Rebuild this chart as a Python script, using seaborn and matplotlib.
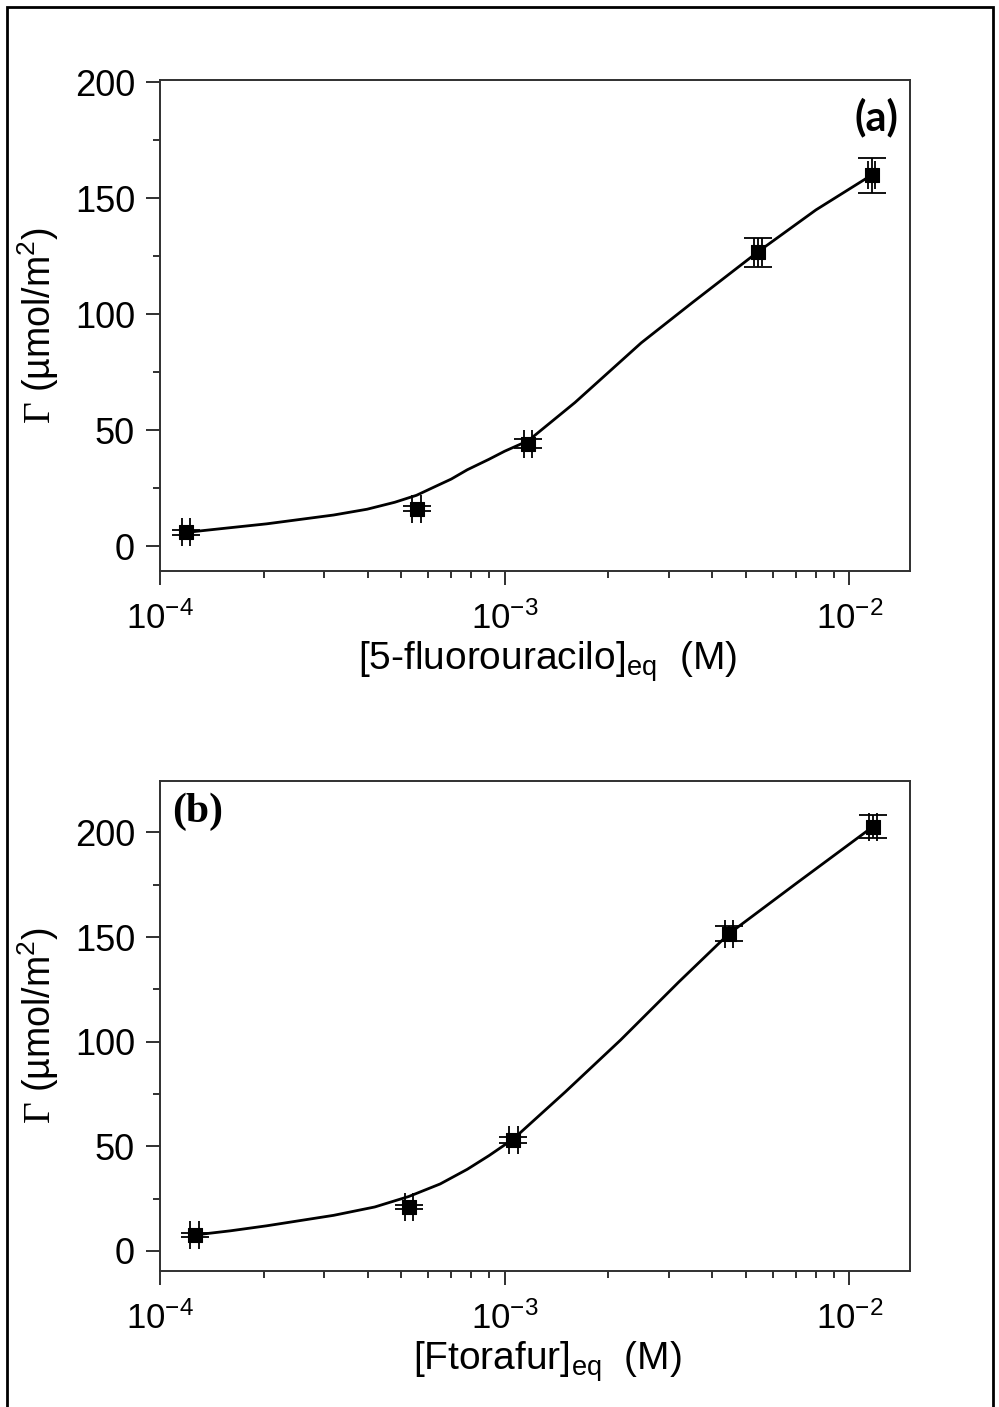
import numpy as np
import pandas as pd
import seaborn as sns
import matplotlib
matplotlib.use("Agg")
import matplotlib.pyplot as plt
from matplotlib.patches import Rectangle
from matplotlib.ticker import LogLocator, MultipleLocator, LogFormatterMathtext

# ---------------- data ----------------
# panel (a): 5-fluorouracilo
xa = [1.19e-4, 5.55e-4, 1.17e-3, 5.44e-3, 1.16e-2]
ya = [6.1, 16.3, 44.3, 126.7, 160.0]
xerr_a = [3e-6, 1.5e-5, 3e-5, 1.4e-4, 3e-4]
yerr_a = [1.0, 1.0, 2.0, 6.4, 7.5]
fit_xa = [1.19e-4, 1.5e-4, 2.04e-4, 3.19e-4, 3.99e-4, 4.8e-4, 5.55e-4, 6.23e-4, 7.0e-4,
          7.79e-4, 9.0e-4, 1.0e-3, 1.17e-3, 1.6e-3, 2.49e-3, 3.5e-3, 5.44e-3, 8e-3, 1.16e-2]
fit_ya = [6.0, 7.6, 9.7, 13.5, 16.0, 19.0, 22.0, 25.5, 29.0,
          33.0, 37.5, 41.0, 45.5, 62.0, 87.7, 105.0, 127.0, 145.0, 160.0]

# panel (b): Ftorafur
xb = [1.26e-4, 5.27e-4, 1.06e-3, 4.47e-3, 1.17e-2]
yb = [7.6, 20.9, 53.0, 151.5, 202.7]
xerr_b = [3.5e-6, 1.4e-5, 3e-5, 1.2e-4, 3e-4]
yerr_b = [1.0, 1.0, 1.5, 3.6, 5.4]
fit_xb = [1.26e-4, 1.6e-4, 2.04e-4, 3.19e-4, 4.2e-4, 5.27e-4, 6.5e-4, 7.79e-4, 9.0e-4,
          1.06e-3, 1.5e-3, 2.17e-3, 3.2e-3, 4.47e-3, 7e-3, 1.17e-2]
fit_yb = [7.6, 9.6, 12.0, 17.0, 21.0, 26.0, 32.0, 39.0, 45.5,
          53.5, 76.0, 100.8, 128.5, 151.5, 175.5, 202.7]

yticks = [0, 50, 100, 150, 200]

# ---------------- style ----------------
sns.set_style("ticks")
plt.rcParams['font.family'] = ['Liberation Sans', 'DejaVu Sans']
plt.rcParams['mathtext.fontset'] = 'custom'
plt.rcParams['mathtext.rm'] = 'Liberation Serif'
plt.rcParams['mathtext.sf'] = 'Liberation Sans'
plt.rcParams['mathtext.it'] = 'Liberation Sans'
plt.rcParams['mathtext.bf'] = 'Liberation Sans:bold'
plt.rcParams['axes.unicode_minus'] = False
plt.rcParams['text.color'] = 'black'
plt.rcParams['axes.labelcolor'] = 'black'
plt.rcParams['xtick.color'] = 'black'
plt.rcParams['ytick.color'] = 'black'

W, H = 999, 1407
fig = plt.figure(figsize=(W / 100, H / 100), dpi=100)
fig.patch.set_facecolor('white')

def fx(px):
    return px / W

def fy(py):
    return 1 - py / H

# outer border
fig.patches.append(Rectangle((fx(7), fy(1420)), fx(993) - fx(7), fy(7) - fy(1420),
                             transform=fig.transFigure, fill=False,
                             edgecolor='black', linewidth=2.0, zorder=10))

ax_a = fig.add_axes([fx(160), fy(570.7), fx(910) - fx(160), fy(80) - fy(570.7)])
ax_b = fig.add_axes([fx(160), fy(1271), fx(910) - fx(160), fy(780.7) - fy(1271)])

panels = [
    (ax_a, xa, ya, xerr_a, yerr_a, fit_xa, fit_ya, (-10.5, 201),
     r"[5-fluorouracilo]$_{\mathsf{eq}}$  (M)"),
    (ax_b, xb, yb, xerr_b, yerr_b, fit_xb, fit_yb, (-9.6, 224.7),
     r"[Ftorafur]$_{\mathsf{eq}}$  (M)"),
]

for ax, x, y, xe, ye, fxs, fys, ylim, xlabel in panels:
    fit_df = pd.DataFrame({"x": fxs, "y": fys})
    sns.lineplot(data=fit_df, x="x", y="y", ax=ax, color='black', linewidth=2.0,
                 sort=False, estimator=None)
    ax.errorbar(x, y, xerr=xe, yerr=ye, fmt='none', ecolor='black',
                elinewidth=1.3, capsize=10, capthick=1.3, zorder=3)
    pts = pd.DataFrame({"x": x, "y": y})
    sns.scatterplot(data=pts, x="x", y="y", ax=ax, marker='s', s=95,
                    color='black', edgecolor='black', zorder=4)
    ax.set_xscale('log')
    ax.set_xlim(1e-4, 1.5e-2)
    ax.set_ylim(*ylim)
    ax.set_yticks(yticks)
    ax.yaxis.set_minor_locator(MultipleLocator(25))
    ax.xaxis.set_major_locator(LogLocator(base=10, numticks=10))
    ax.xaxis.set_minor_locator(LogLocator(base=10, subs=np.arange(2, 10), numticks=20))
    ax.xaxis.set_major_formatter(LogFormatterMathtext())
    ax.xaxis.set_minor_formatter(plt.NullFormatter())
    for side in ['left', 'bottom', 'top', 'right']:
        ax.spines[side].set_color('#303030')
        ax.spines[side].set_linewidth(1.4)
    ax.tick_params(axis='both', which='major', direction='out', length=10,
                   width=1.4, color='#303030', labelcolor='black', top=False, right=False)
    ax.tick_params(axis='both', which='minor', direction='out', length=5,
                   width=1.4, color='#303030', top=False, right=False)
    ax.tick_params(axis='y', which='major', labelsize=26, pad=8)
    ax.tick_params(axis='x', which='major', labelsize=25, pad=12)
    ax.set_xlabel(xlabel, fontsize=28, color='black')
    ax.xaxis.set_label_coords(0.517, -0.14)
    ax.set_ylabel(r"$\Gamma$ (µmol/m$^{\mathsf{2}}$)", fontsize=27, labelpad=10,
                  color='black')
    ax.set_facecolor('white')

ax_a.text(0.985, 0.965, "(a)", transform=ax_a.transAxes, ha='right', va='top',
          fontsize=30, fontweight='bold', family='Lato', color='black')
ax_b.text(0.016, 0.975, "(b)", transform=ax_b.transAxes, ha='left', va='top',
          fontsize=30, fontweight='bold', family='Liberation Serif', color='black')

fig.savefig("out.png", dpi=100)
